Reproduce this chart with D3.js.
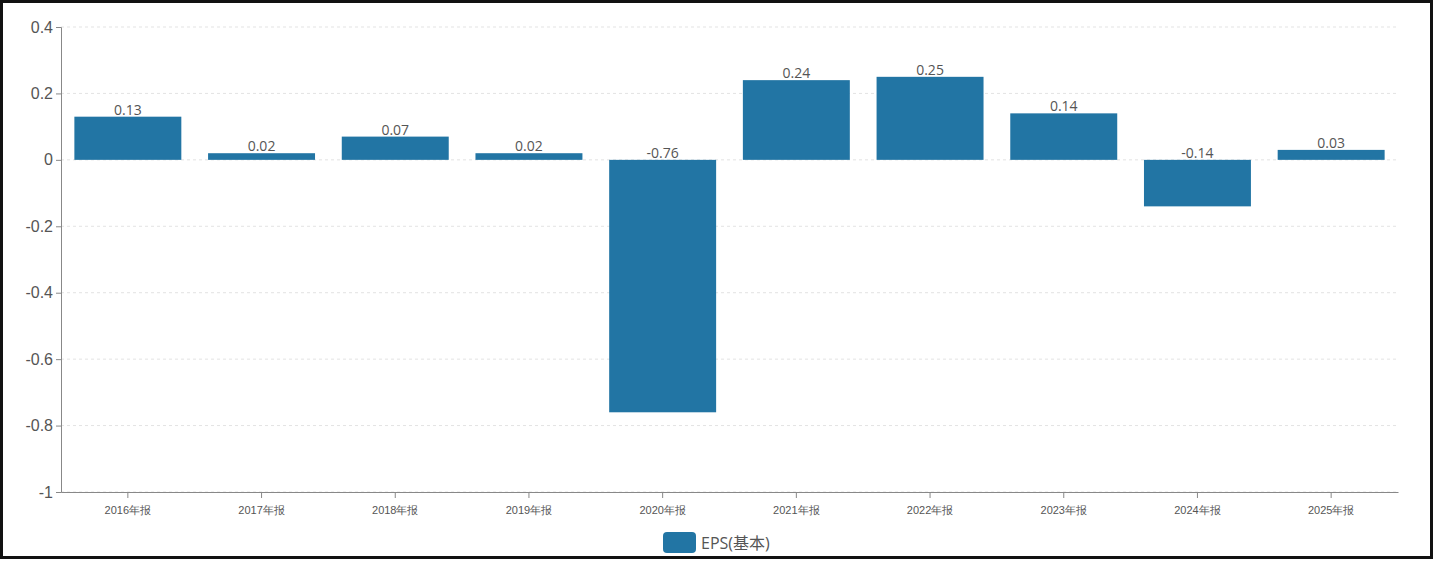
<!DOCTYPE html>
<html lang="zh">
<head>
    <meta charset="utf-8">
    <title>EPS(基本)</title>
    <script src="https://d3js.org/d3.v7.min.js"></script>
    <style>
        body { margin: 0; background: #fff; }
        svg { display: block; font-family: "Open Sans", "Noto Sans CJK SC", sans-serif; }
    </style>
</head>
<body>
<svg width="1438" height="562"></svg>
<script>
    var years = ["2016年报", "2017年报", "2018年报", "2019年报", "2020年报",
                 "2021年报", "2022年报", "2023年报", "2024年报", "2025年报"];
    var eps = [0.13, 0.02, 0.07, 0.02, -0.76, 0.24, 0.25, 0.14, -0.14, 0.03];
    var yTicks = [0.4, 0.2, 0, -0.2, -0.4, -0.6, -0.8, -1];
    var seriesName = "EPS(基本)";

    var marge = {top: 27, bottom: 70, left: 61, right: 40};
    var barColor = "#2275a4";

    var svg = d3.select("svg");

    // 外框
    svg.append("rect")
        .attr("x", 1.5).attr("y", 1.5)
        .attr("width", 1430).attr("height", 556)
        .attr("fill", "none")
        .attr("stroke", "#111")
        .attr("stroke-width", 3);

    var x = d3.scaleBand()
        .domain(years)
        .range([marge.left, 1398])
        .paddingInner(0.2)
        .paddingOuter(0.1);

    var y = d3.scaleLinear()
        .domain([-1, 0.4])
        .range([492, marge.top]);

    // 网格线
    svg.append("g")
        .selectAll("line")
        .data(yTicks)
        .enter()
        .append("line")
        .attr("x1", marge.left)
        .attr("x2", 1398)
        .attr("y1", function(d){ return y(d); })
        .attr("y2", function(d){ return y(d); })
        .attr("stroke", "#e3e3e3")
        .attr("stroke-dasharray", "3,3");

    // 柱子
    svg.append("g")
        .selectAll("rect")
        .data(eps)
        .enter()
        .append("rect")
        .attr("x", function(d, i){ return x(years[i]); })
        .attr("y", function(d){ return y(Math.max(0, d)); })
        .attr("width", x.bandwidth())
        .attr("height", function(d){ return Math.abs(y(d) - y(0)); })
        .attr("fill", barColor);

    // 数值标签
    svg.append("g")
        .selectAll("text")
        .data(eps)
        .enter()
        .append("text")
        .attr("x", function(d, i){ return x(years[i]) + x.bandwidth() / 2; })
        .attr("y", function(d){ return y(Math.max(0, d)) - 2; })
        .attr("text-anchor", "middle")
        .attr("font-size", 14)
        .attr("fill", "#555")
        .text(function(d){ return d; });

    // y轴
    var yAxis = svg.append("g")
        .attr("transform", "translate(" + marge.left + ",0)")
        .call(d3.axisLeft(y).tickValues(yTicks).tickSize(5)
            .tickFormat(function(d){ return String(d); }));
    yAxis.selectAll("text").attr("font-size", 16).attr("fill", "#555");
    yAxis.selectAll("line, path").attr("stroke", "#888");

    // x轴
    var xAxis = svg.append("g")
        .attr("transform", "translate(0," + y(-1) + ")")
        .call(d3.axisBottom(x).tickSize(6).tickSizeOuter(0));
    xAxis.selectAll("text").attr("font-size", 11).attr("fill", "#555").attr("dy", "1.2em");
    xAxis.selectAll("line, path").attr("stroke", "#888");

    // 图例
    var legend = svg.append("g").attr("transform", "translate(663,532)");
    legend.append("rect")
        .attr("width", 33).attr("height", 21)
        .attr("rx", 4)
        .attr("fill", barColor);
    legend.append("text")
        .attr("x", 38).attr("y", 17)
        .attr("font-size", 16)
        .attr("fill", "#555")
        .text(seriesName);
</script>
</body>
</html>
